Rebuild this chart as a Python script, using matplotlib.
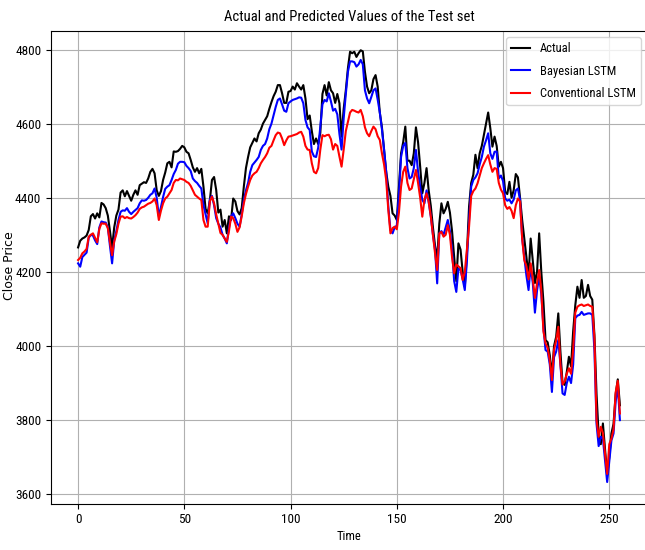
import matplotlib
matplotlib.use("Agg")
import matplotlib.pyplot as plt
from matplotlib import font_manager

actual = [
    4266, 4284, 4290, 4293, 4298, 4313, 4350, 4356, 4344, 4358,
    4347, 4386, 4382, 4372, 4352, 4310, 4265, 4320, 4352, 4368,
    4414, 4420, 4404, 4418, 4405, 4392, 4408, 4420, 4408, 4434,
    4438, 4442, 4440, 4452, 4470, 4478, 4466, 4420, 4405, 4418,
    4448, 4468, 4493, 4497, 4482, 4525, 4524, 4526, 4532, 4540,
    4536, 4524, 4520, 4502, 4482, 4470, 4480, 4466, 4478, 4430,
    4370, 4358, 4392, 4448, 4456, 4421, 4360, 4368, 4322, 4340,
    4304, 4350, 4340, 4398, 4390, 4364, 4355, 4372, 4430, 4480,
    4510, 4536, 4548, 4560, 4552, 4574, 4584, 4600, 4610, 4620,
    4640, 4658, 4674, 4686, 4704, 4704, 4682, 4656, 4656, 4686,
    4688, 4700, 4692, 4709, 4700, 4692, 4704, 4668, 4612, 4622,
    4580, 4545, 4560, 4545, 4575, 4680, 4704, 4676, 4712, 4690,
    4682, 4656, 4680, 4655, 4565, 4640, 4690, 4750, 4794, 4790,
    4794, 4780, 4790, 4798, 4795, 4740, 4700, 4682, 4690, 4720,
    4731, 4700, 4630, 4590, 4530, 4470, 4430, 4405, 4358, 4352,
    4340, 4430, 4520, 4550, 4592, 4500, 4500, 4488, 4520, 4590,
    4550, 4484, 4412, 4440, 4480, 4420, 4378, 4320, 4270, 4236,
    4330, 4385, 4358, 4370, 4389, 4360, 4310, 4240, 4175, 4277,
    4260, 4200, 4160, 4250, 4376, 4440, 4462, 4516, 4480, 4520,
    4540, 4570, 4601, 4630, 4588, 4538, 4565, 4540, 4484, 4497,
    4480, 4416, 4410, 4443, 4400, 4420, 4464, 4455, 4400, 4340,
    4290, 4240, 4190, 4290, 4230, 4170, 4200, 4304, 4200, 4120,
    4016, 4010, 3975, 3920, 4000, 4025, 4088, 3985, 3900, 3895,
    3930, 3971, 3945, 4040, 4110, 4160, 4130, 4178, 4130, 4135,
    4165, 4135, 4125, 4030, 3870, 3760, 3735, 3791, 3720, 3652,
    3700, 3764, 3790, 3870, 3910, 3840,
]

bayesian = [
    4223, 4214, 4240, 4246, 4252, 4292, 4300, 4298, 4285, 4275,
    4320, 4336, 4334, 4333, 4320, 4270, 4223, 4285, 4310, 4340,
    4362, 4366, 4365, 4372, 4362, 4356, 4362, 4367, 4372, 4385,
    4393, 4392, 4394, 4400, 4408, 4412, 4425, 4400, 4350, 4375,
    4402, 4424, 4430, 4434, 4448, 4464, 4475, 4492, 4497, 4497,
    4496, 4486, 4480, 4472, 4452, 4445, 4440, 4432, 4425, 4380,
    4355, 4331, 4395, 4405, 4380, 4345, 4330, 4320, 4300, 4290,
    4277, 4318, 4350, 4358, 4345, 4330, 4322, 4355, 4394, 4420,
    4440, 4470, 4488, 4495, 4502, 4510, 4529, 4540, 4545, 4560,
    4585, 4600, 4622, 4645, 4664, 4668, 4652, 4635, 4632, 4655,
    4660, 4664, 4666, 4668, 4671, 4670, 4655, 4610, 4590, 4583,
    4525, 4512, 4510, 4535, 4592, 4652, 4664, 4660, 4682, 4660,
    4635, 4640, 4625, 4572, 4530, 4615, 4680, 4740, 4768, 4768,
    4766, 4754, 4760, 4772, 4760, 4690, 4668, 4655, 4672, 4690,
    4695, 4665, 4630, 4585, 4530, 4470, 4376, 4313, 4304, 4320,
    4325, 4412, 4510, 4540, 4548, 4480, 4452, 4456, 4480, 4529,
    4470, 4430, 4394, 4385, 4420, 4388, 4350, 4300, 4259, 4169,
    4304, 4310, 4300, 4320, 4340, 4310, 4260, 4175, 4146, 4209,
    4205, 4180, 4151, 4230, 4340, 4430, 4448, 4455, 4466, 4490,
    4510, 4538, 4555, 4574, 4520, 4505, 4524, 4525, 4452, 4460,
    4445, 4398, 4392, 4395, 4385, 4395, 4420, 4425, 4395, 4290,
    4240, 4190, 4151, 4214, 4170, 4090, 4150, 4187, 4140, 4050,
    3989, 3985, 3950, 3876, 3970, 3985, 4016, 3950, 3872, 3868,
    3900, 3917, 3900, 3950, 4075, 4082, 4084, 4092, 4084, 4086,
    4088, 4088, 4084, 3990, 3790, 3730, 3755, 3750, 3692, 3633,
    3690, 3745, 3764, 3850, 3892, 3800,
]

conventional = [
    4232, 4238, 4250, 4255, 4262, 4295, 4300, 4304, 4292, 4280,
    4316, 4331, 4330, 4330, 4318, 4280, 4245, 4282, 4302, 4330,
    4349, 4350, 4345, 4348, 4345, 4344, 4348, 4353, 4360, 4370,
    4374, 4376, 4380, 4384, 4386, 4390, 4398, 4380, 4340, 4365,
    4385, 4398, 4403, 4412, 4421, 4440, 4448, 4447, 4452, 4450,
    4448, 4443, 4440, 4432, 4420, 4408, 4403, 4398, 4394, 4340,
    4322, 4322, 4390, 4403, 4385, 4355, 4330, 4305, 4300, 4290,
    4281, 4310, 4349, 4345, 4330, 4308, 4320, 4350, 4385, 4410,
    4430, 4448, 4460, 4466, 4470, 4480, 4493, 4502, 4510, 4520,
    4535, 4540, 4555, 4569, 4576, 4574, 4560, 4542, 4555, 4565,
    4566, 4568, 4570, 4572, 4576, 4578, 4565, 4540, 4530, 4529,
    4493, 4470, 4466, 4480, 4530, 4569, 4566, 4569, 4570, 4558,
    4530, 4545, 4540, 4511, 4484, 4530, 4580, 4605, 4630, 4637,
    4635, 4632, 4630, 4637, 4620, 4590, 4574, 4566, 4580, 4592,
    4585, 4566, 4556, 4520, 4490, 4448, 4367, 4304, 4318, 4322,
    4315, 4360, 4430, 4470, 4484, 4440, 4421, 4425, 4450, 4475,
    4440, 4400, 4349, 4395, 4412, 4390, 4350, 4300, 4250, 4205,
    4304, 4308, 4295, 4300, 4326, 4300, 4240, 4196, 4220, 4215,
    4210, 4178, 4200, 4260, 4322, 4405, 4418, 4425, 4439, 4460,
    4480, 4493, 4505, 4515, 4490, 4470, 4480, 4478, 4440, 4422,
    4412, 4380, 4370, 4375, 4365, 4345, 4380, 4398, 4390, 4290,
    4232, 4215, 4180, 4223, 4180, 4130, 4170, 4205, 4150, 4040,
    4007, 3995, 3960, 3908, 3990, 4015, 4052, 3950, 3896, 3905,
    3925, 3940, 3925, 3990, 4090, 4106, 4110, 4112, 4108, 4110,
    4112, 4108, 4106, 4020, 3800, 3755, 3782, 3765, 3710, 3655,
    3735, 3750, 3775, 3875, 3906, 3818,
]

series_labels = ["Actual", "Bayesian LSTM", "Conventional LSTM"]
series_colors = ["black", "blue", "red"]
xticks = [0, 50, 100, 150, 200, 250]
yticks = [3600, 3800, 4000, 4200, 4400, 4600, 4800]

available = {f.name for f in font_manager.fontManager.ttflist}
narrow = "DejaVu Sans"
for cand in ["Liberation Sans Narrow", "Roboto Condensed", "Open Sans Condensed",
             "DejaVu Sans Condensed", "Liberation Sans"]:
    if cand in available:
        narrow = cand
        break

plt.rcParams["font.family"] = [narrow, "DejaVu Sans"]

fig = plt.figure(figsize=(6.45, 5.5), dpi=100)
ax = fig.add_axes([51 / 645, 46.5 / 550, 596 / 645, 472.5 / 550])

x = list(range(len(actual)))
for vals, lab, col in zip([actual, bayesian, conventional], series_labels, series_colors):
    ax.plot(x, vals, color=col, lw=1.5, label=lab)

ax.set_xlim(-12.75, 267.75)
ax.set_ylim(3575, 4850)
ax.set_xticks(xticks)
ax.set_yticks(yticks)
ax.tick_params(labelsize=9.5)
ax.grid(True, color="#b0b0b0", lw=0.8)
ax.set_axisbelow(True)

ax.set_title("Actual and Predicted Values of the Test set", fontsize=10.5, pad=7)
ax.set_xlabel("Time", fontsize=9, labelpad=3)
ax.set_ylabel("Close Price", fontsize=9, family=["DejaVu Sans"])
ax.yaxis.set_label_coords(-35 / 596, (503.5 - 266) / 472.5)

leg = ax.legend(loc="upper right", fontsize=9, framealpha=0.8,
                handlelength=1.5, labelspacing=0.75, borderaxespad=0.5)

fig.savefig("out.png", dpi=100)
